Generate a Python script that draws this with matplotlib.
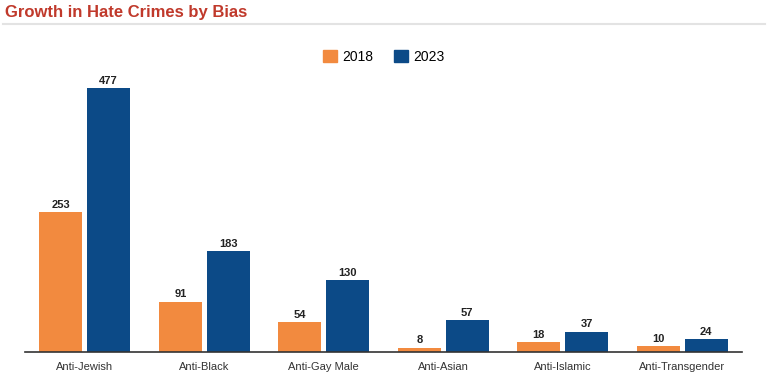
import matplotlib.pyplot as plt
import numpy as np
from matplotlib.patches import Patch
from matplotlib.lines import Line2D

plt.rcParams["font.family"] = ["Liberation Sans", "DejaVu Sans"]

categories = ["Anti-Jewish", "Anti-Black", "Anti-Gay Male", "Anti-Asian", "Anti-Islamic", "Anti-Transgender"]
vals_2018 = [253, 91, 54, 8, 18, 10]
vals_2023 = [477, 183, 130, 57, 37, 24]

orange = "#f28a3f"
blue = "#0c4a87"

fig = plt.figure(figsize=(7.68, 3.85), dpi=100)
W, H = 768, 385
ax = fig.add_axes([25 / W, 1 - 352 / H, 717 / W, 292 / H])

x = np.arange(len(categories))
bw = 0.36
off = 0.2
b1 = ax.bar(x - off, vals_2018, bw, color=orange)
b2 = ax.bar(x + off, vals_2023, bw, color=blue)

for bars in (b1, b2):
    for r in bars:
        ax.text(r.get_x() + r.get_width() / 2, r.get_height() + 4, f"{int(r.get_height())}",
                ha="center", va="bottom", fontsize=8, fontweight="bold", color="#222222")

ax.set_ylim(0, 528)
ax.set_xlim(-0.5, 5.5)
ax.set_xticks(x)
ax.set_xticklabels(categories, fontsize=8, color="#333333")
ax.tick_params(axis="x", length=0, pad=7)
ax.set_yticks([])
for s in ["top", "right", "left"]:
    ax.spines[s].set_visible(False)
ax.spines["bottom"].set_color("#333333")
ax.spines["bottom"].set_linewidth(1.2)

handles = [Patch(color=orange, label="2018"), Patch(color=blue, label="2023")]
fig.legend(handles=handles, loc="center", bbox_to_anchor=(0.5, 1 - 57 / H), ncol=2,
           frameon=False, fontsize=10, handlelength=1.0, handleheight=1.0,
           columnspacing=1.5, handletextpad=0.4)

fig.text(5 / W, 1 - 12 / H, "Growth in Hate Crimes by Bias", fontsize=12, fontweight="bold",
         color="#c0392b", ha="left", va="center")
fig.add_artist(Line2D([3 / W, 765 / W], [1 - 24 / H, 1 - 24 / H], color="#e3e3e3", linewidth=1.5))

fig.savefig("out.png", dpi=100)
